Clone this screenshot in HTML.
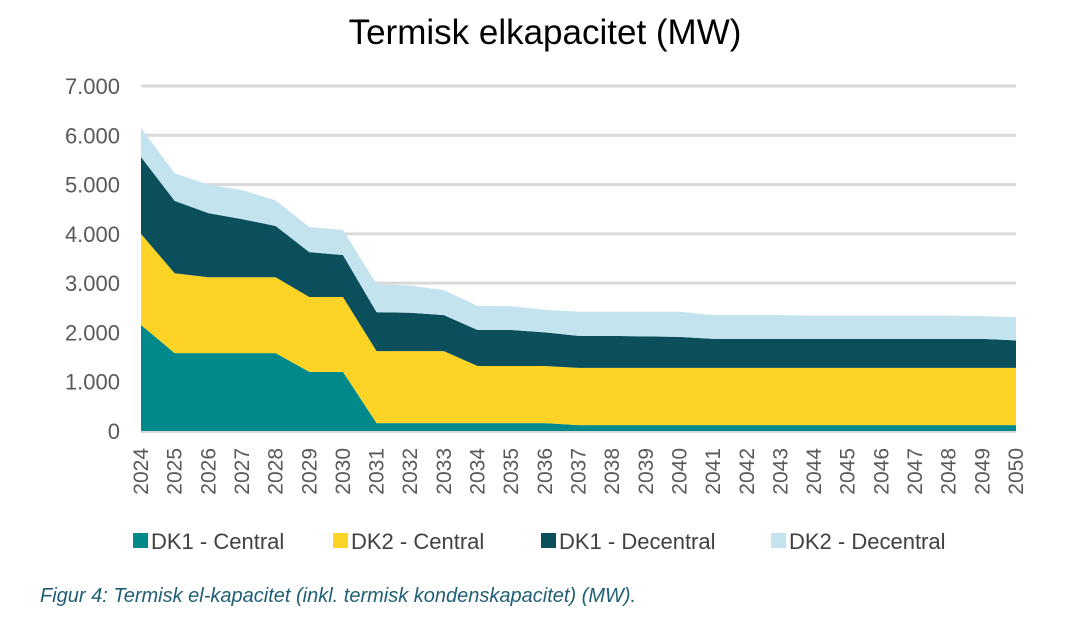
<!DOCTYPE html>
<html><head><meta charset="utf-8"><style>
body{margin:0;background:#fff;}
svg{display:block;font-family:"Liberation Sans",sans-serif;}
</style></head><body>
<svg id="chart" width="1083" height="643" viewBox="0 0 1083 643">
<text x="545" y="44" font-size="35" text-anchor="middle" fill="#000">Termisk elkapacitet (MW)</text>
<g id="grid"></g><g id="areas"></g><g id="yticks"></g><g id="xticks"></g>
<g id="legend"></g>
<text x="40" y="602" font-size="20" font-style="italic" fill="#1e5f74">Figur 4: Termisk el-kapacitet (inkl. termisk kondenskapacitet) (MW).</text>
</svg>
<script>
const years=[2024,2025,2026,2027,2028,2029,2030,2031,2032,2033,2034,2035,2036,2037,2038,2039,2040,2041,2042,2043,2044,2045,2046,2047,2048,2049,2050];
const dk1Central=[2150,1580,1580,1580,1580,1200,1200,160,160,160,160,160,160,120,120,120,120,120,120,120,120,120,120,120,120,120,120];
const dk2Central=[1850,1620,1540,1540,1540,1520,1520,1460,1460,1460,1160,1160,1160,1160,1160,1160,1160,1160,1160,1160,1160,1160,1160,1160,1160,1160,1160];
const dk1Decentral=[1560,1470,1300,1180,1040,910,850,790,780,730,730,730,680,650,650,640,630,590,590,590,590,590,590,590,590,590,560];
const dk2Decentral=[590,560,580,590,520,510,510,570,550,510,490,480,460,490,490,500,510,480,480,480,470,470,470,470,470,460,470];
const yTicks=[0,1000,2000,3000,4000,5000,6000,7000];
const yTickLabels=["0","1.000","2.000","3.000","4.000","5.000","6.000","7.000"];
const seriesNames=["DK1 - Central","DK2 - Central","DK1 - Decentral","DK2 - Decentral"];
const NS="http://www.w3.org/2000/svg";
const X0=141,X1=1016,Y0=431,Y7=86;
const xs=i=>X0+(X1-X0)*i/(years.length-1);
const ys=v=>Y0-(Y0-Y7)*v/7000;
function mk(t,a,p){const e=document.createElementNS(NS,t);for(const k in a)e.setAttribute(k,a[k]);p.appendChild(e);return e;}
const grid=document.getElementById('grid'),yt=document.getElementById('yticks');
yTicks.forEach((v,i)=>{
 if(v>0){const l=mk('line',{x1:X0,x2:X1,y1:ys(v),y2:ys(v),stroke:'#d9d9d9','stroke-width':3},grid);
 
 }
 const t=mk('text',{x:120,y:ys(v)+8,'font-size':22,'text-anchor':'end',fill:'#595959'},yt);t.textContent=yTickLabels[i];
 
 
});
const series=[dk1Central,dk2Central,dk1Decentral,dk2Decentral];
const colors=['#00898a','#fdd426','#0b4f5c','#c3e3ef'];
const ids=['area-dk1-central','area-dk2-central','area-dk1-decentral','area-dk2-decentral'];
const areas=document.getElementById('areas');
let base=years.map(()=>0);
series.forEach((s,k)=>{
 const top=base.map((b,i)=>b+s[i]);
 let d='M'+years.map((y,i)=>xs(i)+','+ys(top[i])).join(' L');
 for(let i=years.length-1;i>=0;i--)d+=' L'+xs(i)+','+ys(base[i]);
 const p=mk('path',{d:d+'Z',fill:colors[k]},areas);
 
 
 base=top;
});
const ax=mk('line',{x1:X0,x2:X1,y1:Y0+1,y2:Y0+1,stroke:'#d9d9d9','stroke-width':2},areas);


const xt=document.getElementById('xticks');
years.forEach((y,i)=>{
 const t=mk('text',{x:0,y:0,'font-size':21,'text-anchor':'end',fill:'#595959',transform:'translate('+(xs(i)+7)+',448) rotate(-90)'},xt);
 t.textContent=y;
 
 
});
const lg=document.getElementById('legend');
const lx=[133,333,541,771];
seriesNames.forEach((n,k)=>{
 const g=mk('g',{},lg);
 
 
 mk('rect',{x:lx[k],y:533,width:15,height:15,fill:colors[k]},g);
 const t=mk('text',{x:lx[k]+18,y:549,'font-size':22,fill:'#404040'},g);t.textContent=n;
});
</script>
</body></html>
